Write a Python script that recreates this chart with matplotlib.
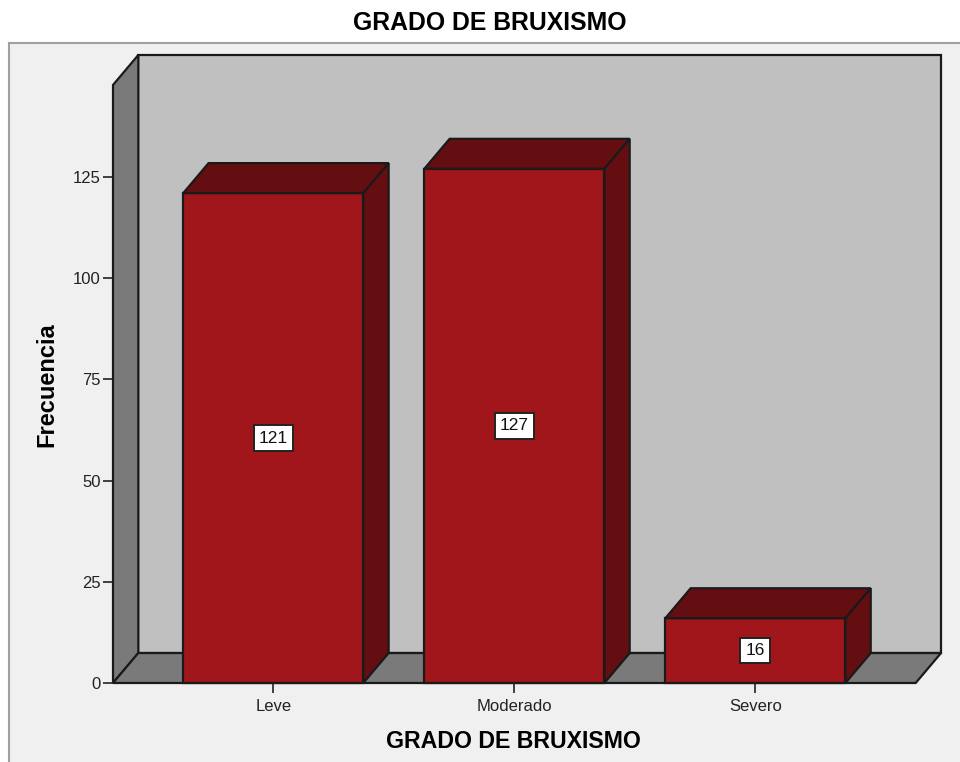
"""3D-style SPSS bar chart: GRADO DE BRUXISMO."""

import matplotlib
matplotlib.use("Agg")
import matplotlib.pyplot as plt
from matplotlib.patches import Rectangle, Polygon

categories = ["Leve", "Moderado", "Severo"]
counts = [121, 127, 16]
yticks = [0, 25, 50, 75, 100, 125]

plt.rcParams['font.family'] = ['Liberation Sans', 'DejaVu Sans']

W, H = 960, 762
fig = plt.figure(figsize=(W / 100, H / 100), dpi=100)
fig.patch.set_facecolor("white")

# light gray frame behind the chart
fig.patches.append(Rectangle((9 / W, -0.01), 1.0, 1 - 43 / H + 0.01,
                             transform=fig.transFigure, facecolor="#f0f0f0",
                             edgecolor="#a0a0a0", linewidth=1.5, zorder=-10))

# axes box: left wall front edge to back wall right edge
ax = fig.add_axes([113 / W, (H - 683) / H, 828 / W, 628 / H])
ax.set_facecolor("none")
for s in ax.spines.values():
    s.set_visible(False)

x0, x1 = -0.665, 2.665       # front floor extent (category units)
dx, dy = 0.105, 7.4          # depth offset
ytop = 147.7                 # top of left wall (front)
ax.set_xlim(x0, x1 + dx)
ax.set_ylim(0, ytop + dy)

wall = "#c0c0c0"
side = "#7a7a7a"
ek = dict(edgecolor="#1a1a1a", linewidth=1.6, clip_on=False, joinstyle="miter")

ax.add_patch(Polygon([(x0 + dx, dy), (x1 + dx, dy), (x1 + dx, ytop + dy),
                      (x0 + dx, ytop + dy)], facecolor=wall, **ek))
ax.add_patch(Polygon([(x0, 0), (x0 + dx, dy), (x0 + dx, ytop + dy), (x0, ytop)],
                     facecolor=side, **ek))
ax.add_patch(Polygon([(x0, 0), (x0 + dx, dy), (x1 + dx, dy), (x1, 0)],
                     facecolor=side, **ek))

front = "#a0161a"
dark = "#640e11"
bw = 0.747
for i, v in enumerate(counts):
    l, r = i - bw / 2, i + bw / 2
    ax.add_patch(Polygon([(l, 0), (r, 0), (r, v), (l, v)], facecolor=front, **ek))
    ax.add_patch(Polygon([(l, v), (l + dx, v + dy), (r + dx, v + dy), (r, v)],
                         facecolor=dark, **ek))
    ax.add_patch(Polygon([(r, 0), (r + dx, dy), (r + dx, v + dy), (r, v)],
                         facecolor=dark, **ek))
    ax.text(i, v / 2, str(v), ha="center", va="center", fontsize=12.5, color="#111111",
            bbox=dict(boxstyle="square,pad=0.3", facecolor="white",
                      edgecolor="#222222", linewidth=1.4))

ax.set_yticks(yticks)
ax.set_yticklabels([str(t) for t in yticks])
ax.set_xticks(range(len(categories)))
ax.set_xticklabels(categories)
ax.tick_params(axis="y", direction="out", length=7, width=1.2, pad=2,
               labelsize=12, colors="#222222")
ax.tick_params(axis="x", direction="out", length=7.5, width=1.2, pad=4,
               labelsize=12, colors="#222222")

fig.text(490 / W, 1 - 23 / H, "GRADO DE BRUXISMO", ha="center", va="center",
         fontsize=17.8, fontweight="bold")
fig.text(513 / W, 1 - 742 / H, "GRADO DE BRUXISMO", ha="center", va="center",
         fontsize=16.7, fontweight="bold")
fig.text(47 / W, 1 - 385 / H, "Frecuencia", ha="center", va="center",
         rotation=90, fontsize=17, fontweight="bold")

fig.savefig("out.png", dpi=100)
